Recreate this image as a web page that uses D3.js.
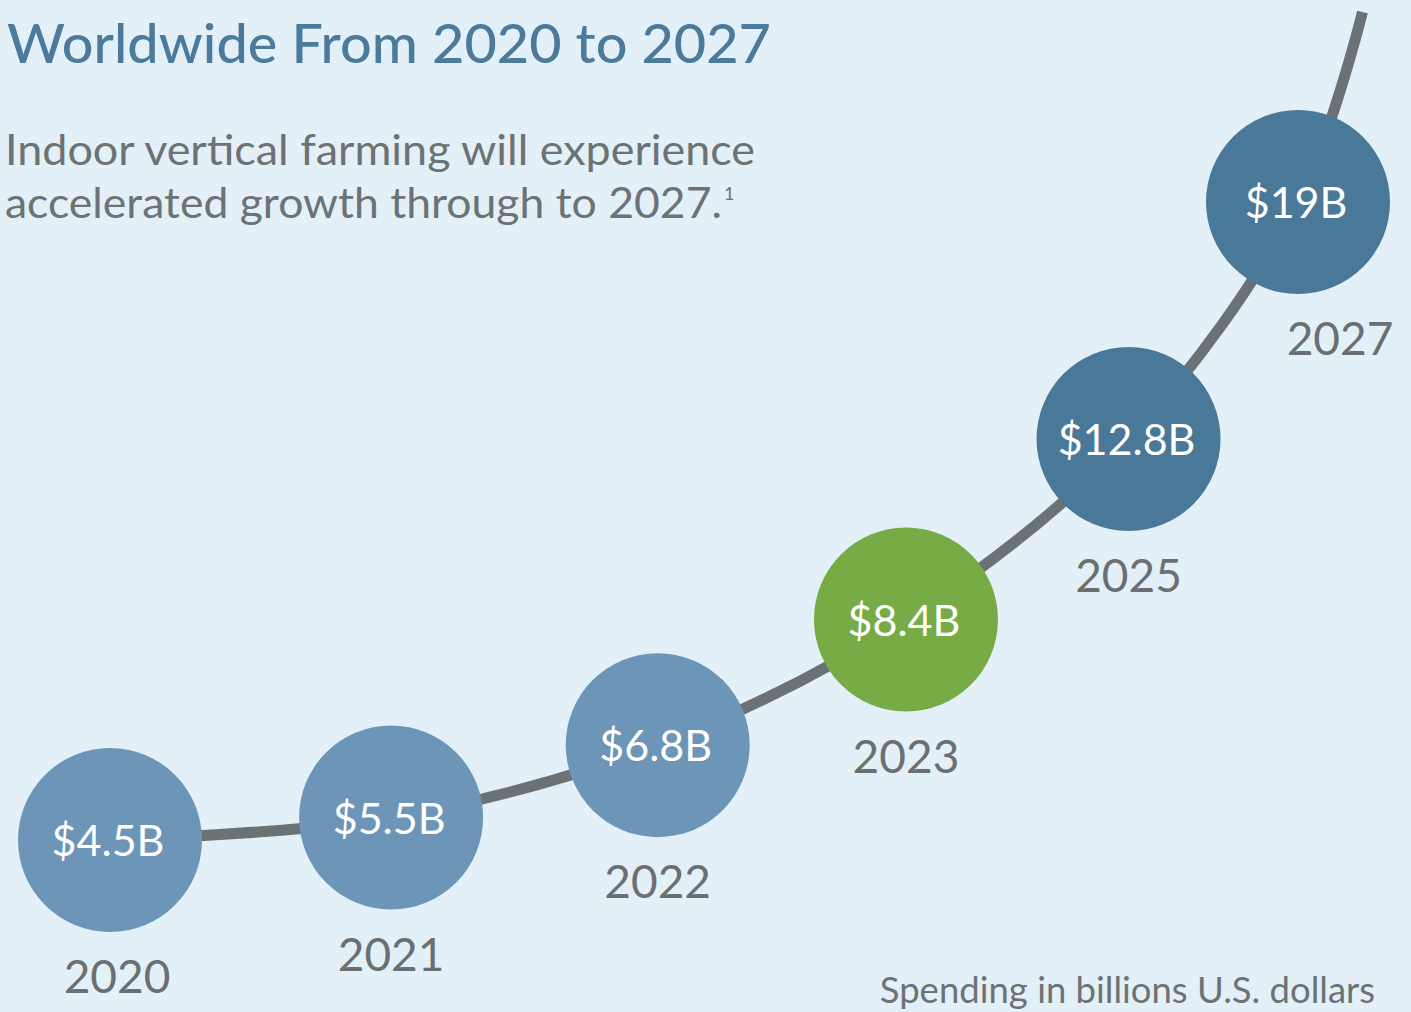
<!DOCTYPE html>
<html>
<head>
<meta charset="utf-8">
<script src="https://cdn.jsdelivr.net/npm/d3@7"></script>
<style>
  html, body { margin: 0; padding: 0; background: #e3f0f8; }
  svg { display: block; }
</style>
</head>
<body>
<svg id="chart" width="1411" height="1012"></svg>
<script>
// ---- data ----
const years = ["2020", "2021", "2022", "2023", "2025", "2027"];
const values = [4.5, 5.5, 6.8, 8.4, 12.8, 19];
const highlightYear = "2023";
const titleLine = "Worldwide From 2020 to 2027";
const subtitleLines = ["Indoor vertical farming will experience", "accelerated growth through to 2027."];
const footnote = "Spending in billions U.S. dollars";

// ---- layout ----
const W = 1411, H = 1012;
const svg = d3.select("#chart");
svg.append("rect").attr("width", W).attr("height", H).attr("fill", "#e3f0f8");

const n = years.length;
// steps along an accelerating growth curve, one step per reported year
const xScale = d3.scalePow().exponent(1.21).domain([0, n - 1]).range([1298, 110]);
const xOf = i => xScale((n - 1) - i);
const yScale = d3.scalePow().exponent(2.08).domain([0, n - 1]).range([840, 202]);

const R = 92;
const points = years.map((d, i) => [xOf(i), yScale(i)]);
// tail of the curve running off the top edge
const tail = [xOf(n - 1 + 0.45), 12];
const linePts = points.concat([tail]);

svg.append("path")
  .attr("d", d3.line().curve(d3.curveCatmullRom.alpha(0.5))(linePts))
  .attr("fill", "none")
  .attr("stroke", "#6b7275")
  .attr("stroke-width", 11);

const colorFor = (y, i) => y === highlightYear ? "#77ab45" : (i >= 4 ? "#4a7899" : "#6d95b8");
const fmt = v => "$" + d3.format("~g")(v) + "B";

const g = svg.append("g");
g.selectAll("circle").data(years).join("circle")
  .attr("cx", (d, i) => points[i][0])
  .attr("cy", (d, i) => points[i][1])
  .attr("r", R)
  .attr("fill", (d, i) => colorFor(d, i));

g.selectAll("text.val").data(values).join("text")
  .attr("class", "val")
  .attr("x", (d, i) => points[i][0] - 2)
  .attr("y", (d, i) => points[i][1] + 16)
  .attr("text-anchor", "middle")
  .attr("font-family", "Lato, sans-serif")
  .attr("font-size", 43)
  .attr("fill", "#ffffff")
  .text(d => fmt(d));

g.selectAll("text.yr").data(years).join("text")
  .attr("class", "yr")
  .attr("x", (d, i) => points[i][0] + (i === 0 ? 7 : (i === n - 1 ? 42 : 0)))
  .attr("y", (d, i) => points[i][1] + 153)
  .attr("text-anchor", "middle")
  .attr("font-family", "Lato, sans-serif")
  .attr("font-size", 46)
  .attr("fill", "#6b6f72")
  .text(d => d);

// title
svg.append("text")
  .attr("x", 7).attr("y", 63)
  .attr("font-family", "Lato, sans-serif")
  .attr("font-size", 54)
  .attr("font-weight", 500)
  .attr("fill", "#4a7a9c")
  .attr("textLength", 764)
  .attr("lengthAdjust", "spacingAndGlyphs")
  .text(titleLine);

// subtitle
const subLen = [750, 717];
const sub = svg.append("g")
  .attr("font-family", "Lato, sans-serif")
  .attr("font-size", 43)
  .attr("fill", "#6d7275");
sub.append("text").attr("x", 5).attr("y", 165)
  .attr("textLength", subLen[0]).attr("lengthAdjust", "spacingAndGlyphs")
  .text(subtitleLines[0]);
sub.append("text").attr("x", 5).attr("y", 218)
  .attr("textLength", subLen[1]).attr("lengthAdjust", "spacingAndGlyphs")
  .text(subtitleLines[1]);
sub.append("text").attr("x", 724).attr("y", 200)
  .attr("font-size", 18).text("1");

svg.append("text")
  .attr("x", 1375).attr("y", 1003)
  .attr("text-anchor", "end")
  .attr("font-family", "Lato, sans-serif")
  .attr("font-size", 36.5)
  .attr("fill", "#6d7275")
  .text(footnote);
</script>
</body>
</html>
